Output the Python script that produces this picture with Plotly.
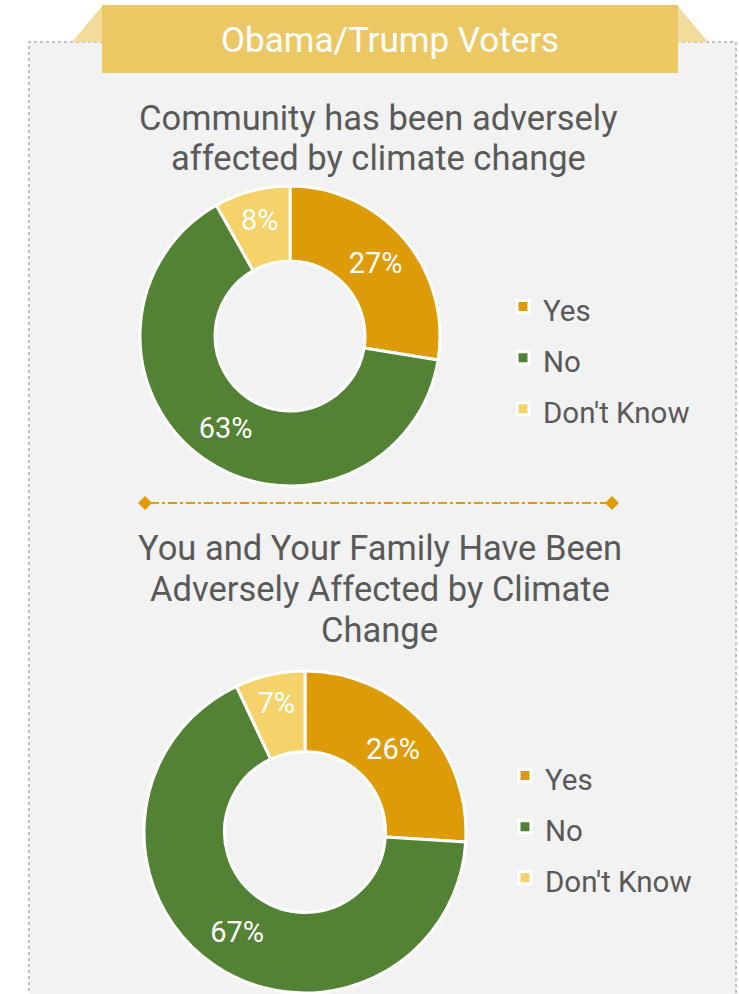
import plotly.graph_objects as go

W, H = 739, 994

categories = ["Yes", "No", "Don't Know"]
community_values = [27, 63, 8]
family_values = [26, 67, 7]
colors = ["#DD9C07", "#548235", "#F5D36A"]

banner_title = "Obama/Trump Voters"
title1_lines = ["Community has been adversely", "affected by climate change"]
title2_lines = ["You and Your Family Have Been", "Adversely Affected by Climate", "Change"]

FONT = "Roboto"
TXT = "#595959"


def px(x):
    return x / W


def py(y):
    return 1 - y / H


fig = go.Figure()

charts = [
    (community_values, dict(x=[px(140), px(440)], y=[py(486), py(186)]), "legend", "#595959"),
    (family_values, dict(x=[px(144), px(466)], y=[py(993), py(671)]), "legend2", "#595958"),
]
for vals, dom, leg, col in charts:
    labels = [f"<span style='font-size:29.5px;color:{col}'>{c}</span>" for c in categories]
    fig.add_trace(go.Pie(
        labels=labels,
        values=vals,
        text=[f"{v}%" for v in vals],
        textinfo="text",
        textposition="inside",
        insidetextorientation="horizontal",
        insidetextfont=dict(color="white", size=29, family=FONT),
        marker=dict(colors=colors, line=dict(color="white", width=3)),
        hole=0.5,
        sort=False,
        direction="clockwise",
        rotation=0,
        domain=dom,
        legend=leg,
        hoverinfo="percent",
    ))

shapes = [
    # panel
    dict(type="rect", xref="paper", yref="paper", x0=px(29), x1=px(736), y0=py(1000), y1=py(42),
         fillcolor="#F2F2F2", line=dict(color="#BFBFBF", width=2, dash="dot"), layer="below"),
    # banner side triangles
    dict(type="path", xref="paper", yref="paper",
         path=f"M {px(72)},{py(42)} L {px(103)},{py(5)} L {px(103)},{py(42)} Z",
         fillcolor="#F2DC9C", line=dict(width=0), layer="below"),
    dict(type="path", xref="paper", yref="paper",
         path=f"M {px(677)},{py(42)} L {px(677)},{py(5)} L {px(708)},{py(42)} Z",
         fillcolor="#F2DC9C", line=dict(width=0), layer="below"),
    # banner
    dict(type="rect", xref="paper", yref="paper", x0=px(102), x1=px(678), y0=py(73), y1=py(5),
         fillcolor="#ECC865", line=dict(width=0), layer="below"),
    # divider
    dict(type="line", xref="paper", yref="paper", x0=px(150), x1=px(608), y0=py(503), y1=py(503),
         line=dict(color="#DD9C07", width=2, dash="dashdot")),
    dict(type="path", xref="paper", yref="paper",
         path=f"M {px(138)},{py(503)} L {px(145)},{py(496)} L {px(152)},{py(503)} L {px(145)},{py(510)} Z",
         fillcolor="#DD9C07", line=dict(width=0)),
    dict(type="path", xref="paper", yref="paper",
         path=f"M {px(605)},{py(503)} L {px(612)},{py(496)} L {px(619)},{py(503)} L {px(612)},{py(510)} Z",
         fillcolor="#DD9C07", line=dict(width=0)),
]

annotations = [
    dict(text=banner_title, x=px(390), y=py(41), xref="paper", yref="paper", showarrow=False,
         font=dict(family=FONT, size=35, color="white"), xanchor="center", yanchor="middle"),
]
for i, line in enumerate(title1_lines):
    annotations.append(dict(text=line, x=px(378), y=py(118 + 40 * i), xref="paper", yref="paper",
                            showarrow=False, font=dict(family=FONT, size=34.5, color=TXT),
                            xanchor="center", yanchor="middle"))
for i, line in enumerate(title2_lines):
    annotations.append(dict(text=line, x=px(380), y=py(548 + 41 * i), xref="paper", yref="paper",
                            showarrow=False, font=dict(family=FONT, size=34.5, color=TXT),
                            xanchor="center", yanchor="middle"))

legend_style = dict(
    font=dict(family=FONT, size=37, color=TXT),
    bgcolor="rgba(0,0,0,0)",
    xanchor="left", yanchor="middle",
    tracegroupgap=0,
    itemwidth=30,
)

fig.update_layout(
    width=W, height=H,
    margin=dict(l=0, r=0, t=0, b=0),
    paper_bgcolor="white",
    plot_bgcolor="white",
    shapes=shapes,
    annotations=annotations,
    legend=dict(x=px(503), y=py(358), **legend_style),
    legend2=dict(x=px(505), y=py(827), **legend_style),
    uniformtext=dict(minsize=28, mode="show"),
    showlegend=True,
)

fig.write_html("out.html", config={"displayModeBar": False},
               post_script="document.body.style.margin='0';")
